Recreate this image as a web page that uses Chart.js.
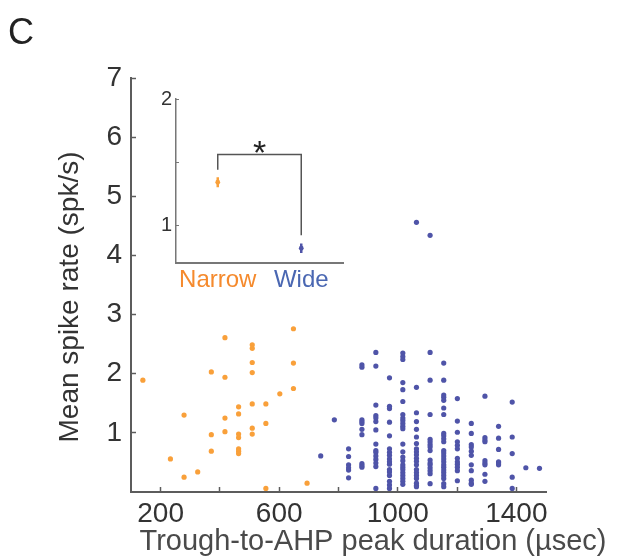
<!DOCTYPE html>
<html>
<head>
<meta charset="utf-8">
<script src="https://cdn.jsdelivr.net/npm/chart.js@4.4.1/dist/chart.umd.min.js"></script>
<style>
    body { margin: 0; background: #fff; }
    #wrap { position: relative; width: 618px; height: 558px; }
    #main { position: absolute; left: 0; top: 0; }
    #inset { position: absolute; left: 130px; top: 80px; }
</style>
</head>
<body>
<div id="wrap">
    <canvas id="main" width="618" height="558"></canvas>
    <canvas id="inset" width="230" height="220"></canvas>
</div>
<script>
// x ticks (µsec) and which of them carry a label
const durTicks = [200, 400, 600, 800, 1000, 1200, 1400];
const durLabels = [200, 600, 1000, 1400];
const rateTicks = [1, 2, 3, 4, 5, 6, 7];

// narrow-spiking units
const narrowDur = [140, 233, 279, 279, 325, 371, 371, 371, 417, 417, 417, 417,
    463, 463, 463, 463, 463, 463, 463, 509, 509, 509, 509, 509, 509, 509,
    555, 555, 555, 602, 648, 648, 648, 694];
const narrowRate = [1.89, 0.56, 1.30, 0.25, 0.34, 2.03, 0.97, 0.69, 2.61, 1.94, 1.25, 1.02,
    1.44, 1.32, 0.98, 0.92, 0.73, 0.69, 0.65, 2.49, 2.43, 2.19, 2.02, 1.49, 1.08, 0.98,
    1.49, 1.16, 0.06, 1.66, 2.76, 2.18, 1.75, 0.15];

// wide-spiking units, one list of rates per duration column
const wideDur = [740, 786, 834, 879, 926, 972, 1017, 1063, 1109, 1155, 1201, 1248, 1294, 1340, 1386, 1432, 1478];
const wideRate = [
    [0.61],
    [1.22],
    [0.73, 0.60, 0.46, 0.41, 0.37, 0.24],
    [2.15, 2.11, 1.22, 1.19, 1.16, 1.06, 0.97, 0.48, 0.45, 0.42],
    [2.36, 2.13, 1.47, 1.29, 1.25, 1.19, 1.05, 0.81, 0.70, 0.67, 0.61, 0.55, 0.49, 0.43, 0.06],
    [1.93, 1.45, 1.41, 1.18, 0.95, 0.73, 0.67, 0.62, 0.56, 0.51, 0.47, 0.38, 0.34, 0.28, 0.18, 0.12, 0.06],
    [2.35, 2.29, 2.24, 1.85, 1.73, 1.53, 1.31, 1.25, 1.21, 1.16, 1.11, 1.07, 0.81, 0.68, 0.59, 0.53, 0.46, 0.42, 0.38, 0.33, 0.28, 0.23, 0.18, 0.13],
    [4.56, 1.77, 1.34, 1.19, 1.06, 0.93, 0.82, 0.73, 0.68, 0.63, 0.57, 0.52, 0.46, 0.38, 0.33, 0.28, 0.23, 0.15, 0.11, 0.09],
    [4.34, 2.36, 1.89, 1.31, 0.89, 0.85, 0.80, 0.76, 0.70, 0.54, 0.49, 0.46, 0.41, 0.36, 0.31, 0.14],
    [2.18, 1.89, 1.64, 1.60, 1.55, 1.42, 1.31, 0.99, 0.95, 0.90, 0.85, 0.70, 0.66, 0.61, 0.56, 0.51, 0.46, 0.42, 0.37, 0.33, 0.28, 0.23, 0.14, 0.09],
    [1.58, 1.20, 1.01, 0.85, 0.79, 0.73, 0.57, 0.51, 0.47, 0.42, 0.36, 0.19],
    [1.16, 0.99, 0.80, 0.76, 0.69, 0.62, 0.46, 0.36, 0.20, 0.15, 0.13],
    [1.62, 0.92, 0.88, 0.85, 0.53, 0.49, 0.46, 0.30, 0.18],
    [1.11, 0.91, 0.72, 0.51, 0.49, 0.46],
    [1.52, 0.93, 0.65, 0.25, 0.06],
    [0.41],
    [0.40]
];

// inset: group means with error
const groups = ['Narrow', 'Wide'];
const groupMean = [1.34, 0.817];
const groupErr = [0.04, 0.037];
const insetTicks = [1, 1.5, 2];
const bracketTop = 1.56;
const bracketFeet = [1.44, 0.92];
const starY = 1.64;

const narrowColor = '#f9a03a';
const wideColor = '#4f54a8';
const groupText = ['#f58a2d', '#4a67b2'];
const axisColor = '#5c5c5c';
const tickColor = '#333333';

Chart.defaults.font.family = "'Liberation Sans', Arial, sans-serif";

const narrowPoints = narrowDur.map((d, i) => ({ x: d, y: narrowRate[i] }));
const widePoints = [];
wideDur.forEach((d, i) => {
    wideRate[i].forEach(r => widePoints.push({ x: d, y: r }));
});

const mainText = {
    id: 'mainText',
    afterDraw(chart) {
        const ctx = chart.ctx;
        ctx.save();
        ctx.fillStyle = '#222';
        ctx.font = "36px 'Liberation Sans'";
        ctx.textAlign = 'left';
        ctx.textBaseline = 'alphabetic';
        ctx.fillText('C', 8, 44);

        ctx.fillStyle = '#4a4a4a';
        ctx.font = "29px 'Liberation Sans'";
        ctx.textAlign = 'center';
        ctx.fillText('Trough-to-AHP peak duration (µsec)', 373, 550);

        ctx.fillStyle = '#333';
        ctx.font = "28px 'Liberation Sans'";
        ctx.translate(78, 297);
        ctx.rotate(-Math.PI / 2);
        ctx.fillText('Mean spike rate (spk/s)', 0, 0);
        ctx.restore();
    }
};

new Chart(document.getElementById('main'), {
    type: 'scatter',
    data: {
        datasets: [
            {
                label: 'Wide',
                data: widePoints,
                backgroundColor: wideColor,
                borderWidth: 0,
                pointRadius: 2.6
            },
            {
                label: 'Narrow',
                data: narrowPoints,
                backgroundColor: narrowColor,
                borderWidth: 0,
                pointRadius: 2.6
            }
        ]
    },
    options: {
        responsive: false,
        animation: false,
        layout: { padding: { left: 0, right: 72, top: 78, bottom: 0 } },
        plugins: {
            legend: { display: false },
            tooltip: { enabled: false }
        },
        scales: {
            x: {
                type: 'linear',
                min: 100,
                max: 1500,
                afterBuildTicks: s => { s.ticks = durTicks.map(v => ({ value: v })); },
                afterFit: s => { s.height = 66; },
                ticks: {
                    callback: v => durLabels.includes(v) ? String(v) : '',
                    font: { size: 28 },
                    color: tickColor,
                    padding: 10,
                    maxRotation: 0,
                    autoSkip: false
                },
                grid: { drawOnChartArea: false, tickLength: -5, tickColor: axisColor, tickWidth: 1.5 },
                border: { color: axisColor, width: 2 }
            },
            y: {
                type: 'linear',
                min: 0,
                max: 7,
                afterBuildTicks: s => { s.ticks = rateTicks.map(v => ({ value: v })); },
                afterFit: s => { s.width = 131; },
                ticks: {
                    font: { size: 28 },
                    color: tickColor,
                    padding: 14
                },
                grid: { drawOnChartArea: false, tickLength: -5, tickColor: axisColor, tickWidth: 1.5 },
                border: { color: axisColor, width: 2 }
            }
        }
    },
    plugins: [mainText]
});

const insetStar = {
    id: 'insetStar',
    afterDatasetsDraw(chart) {
        const { ctx, scales } = chart;
        const x = (scales.x.getPixelForValue(0) + scales.x.getPixelForValue(1)) / 2;
        const y = scales.y.getPixelForValue(starY);
        const size = 34;
        ctx.save();
        ctx.fillStyle = '#222';
        ctx.font = size + "px 'Liberation Sans'";
        ctx.textAlign = 'center';
        ctx.textBaseline = 'alphabetic';
        ctx.fillText('*', x, y + size * 0.57);
        ctx.restore();
    }
};

const insetSets = [];
groups.forEach((g, i) => {
    insetSets.push({
        data: [{ x: g, y: groupMean[i] - groupErr[i] }, { x: g, y: groupMean[i] + groupErr[i] }],
        borderColor: groupText[i] === groupText[0] ? narrowColor : wideColor,
        borderWidth: 2.5,
        pointRadius: 0
    });
    insetSets.push({
        data: [{ x: g, y: groupMean[i] }],
        showLine: false,
        pointRadius: 2.4,
        pointBorderWidth: 0,
        pointBackgroundColor: i === 0 ? narrowColor : wideColor
    });
});
insetSets.push({
    data: [
        { x: groups[0], y: bracketFeet[0] },
        { x: groups[0], y: bracketTop },
        { x: groups[1], y: bracketTop },
        { x: groups[1], y: bracketFeet[1] }
    ],
    borderColor: '#555',
    borderWidth: 1.5,
    pointRadius: 0,
    tension: 0
});

new Chart(document.getElementById('inset'), {
    type: 'line',
    data: { labels: groups, datasets: insetSets },
    options: {
        responsive: false,
        animation: false,
        layout: { padding: { left: 0, right: 17, top: 18, bottom: 0 } },
        plugins: {
            legend: { display: false },
            tooltip: { enabled: false }
        },
        scales: {
            x: {
                type: 'category',
                offset: true,
                afterFit: s => { s.height = 37; },
                ticks: {
                    font: { size: 24 },
                    color: c => groupText[c.index],
                    padding: 3,
                    maxRotation: 0
                },
                grid: { drawOnChartArea: false, drawTicks: false },
                border: { color: '#777', width: 2 }
            },
            y: {
                type: 'linear',
                min: 0.7,
                max: 2,
                afterBuildTicks: s => { s.ticks = insetTicks.map(v => ({ value: v })); },
                afterFit: s => { s.width = 46; },
                ticks: {
                    callback: v => Number.isInteger(v) ? String(v) : '',
                    font: { size: 20 },
                    color: tickColor,
                    padding: 7
                },
                grid: { drawOnChartArea: false, tickLength: -3, tickColor: '#777', tickWidth: 1 },
                border: { color: '#777', width: 1.5 }
            }
        }
    },
    plugins: [insetStar]
});
</script>
</body>
</html>
